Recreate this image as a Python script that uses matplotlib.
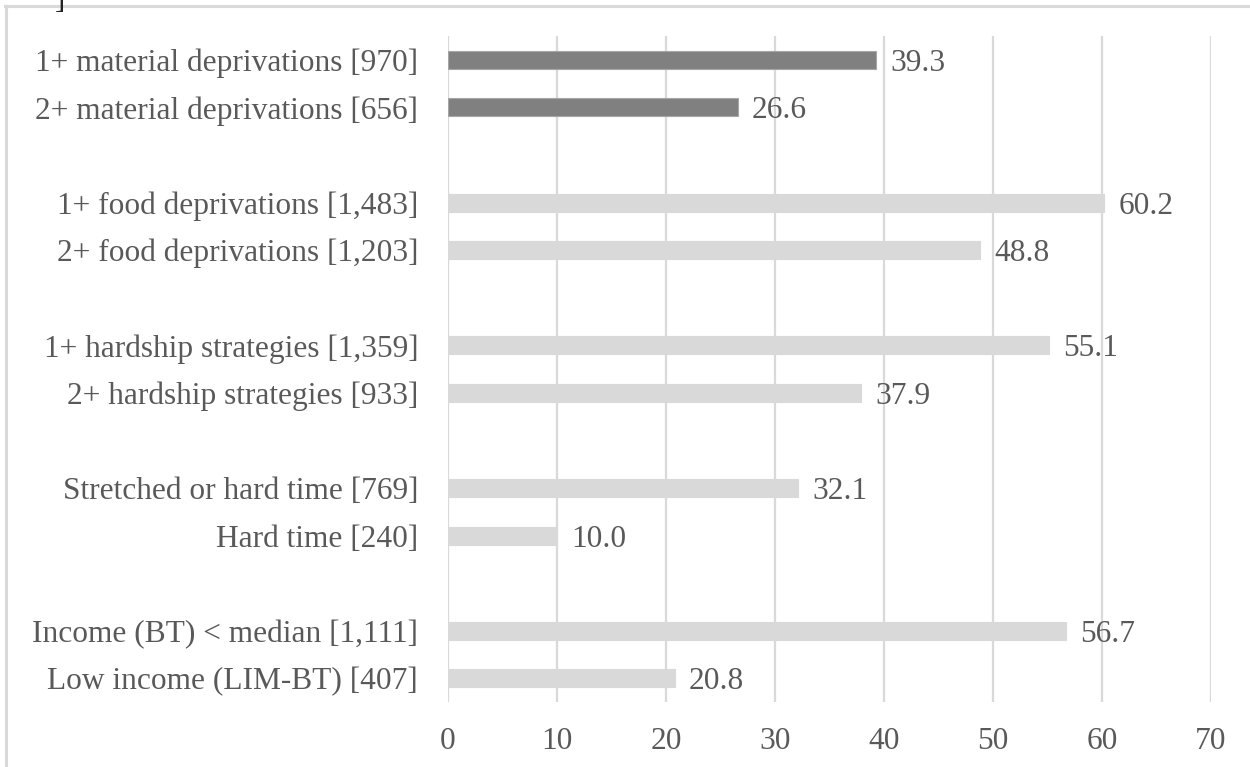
import numpy as np
import matplotlib
matplotlib.use("Agg")
import matplotlib.pyplot as plt
from matplotlib.lines import Line2D

plt.rcParams["font.family"] = ["Liberation Serif", "DejaVu Serif"]

labels = [
    "1+ material deprivations [970]",
    "2+ material deprivations [656]",
    "1+ food deprivations [1,483]",
    "2+ food deprivations [1,203]",
    "1+ hardship strategies [1,359]",
    "2+ hardship strategies [933]",
    "Stretched or hard time [769]",
    "Hard time [240]",
    "Income (BT) < median [1,111]",
    "Low income (LIM-BT) [407]",
]
values = [39.3, 26.6, 60.2, 48.8, 55.1, 37.9, 32.1, 10.0, 56.7, 20.8]
highlight = [True, True, False, False, False, False, False, False, False, False]
xticks = [0, 10, 20, 30, 40, 50, 60, 70]

TEXT = "#595959"
GRID = "#d9d9d9"
DARK = "#808080"
LIGHT = "#d9d9d9"
FS = 22.6

# pairs of bars with an empty slot between groups
pos = np.array([g * 3 + k for g in range(5) for k in range(2)])

fig = plt.figure(figsize=(12.5, 7.67), dpi=100)
ax = fig.add_axes([0.3584, 0.0847, 0.6104, 0.8683])

colors = [DARK if h else LIGHT for h in highlight]
edges = ["#a6a6a6" if h else LIGHT for h in highlight]
ax.barh(pos, values, height=0.38, color=colors, edgecolor=edges,
        linewidth=0.8, zorder=3)

for p, v in zip(pos, values):
    ax.text(v + 1.3, p, f"{v:.1f}", va="center_baseline", ha="left",
            fontsize=FS, color=TEXT, zorder=4)

ax.set_ylim(13.5, -0.5)
ax.set_xlim(0, 70)
ax.set_yticks(pos)
ax.set_yticklabels(labels, fontsize=FS, color=TEXT)
ax.set_xticks(xticks)
ax.set_xticklabels([str(t) for t in xticks], fontsize=FS, color=TEXT)
ax.tick_params(axis="both", length=0)
ax.tick_params(axis="y", pad=21.5)
ax.tick_params(axis="x", pad=18)
ax.xaxis.grid(True, color=GRID, linewidth=1.6, zorder=0)
ax.set_axisbelow(True)
for s in ax.spines.values():
    s.set_visible(False)

# chart area border (top and left edges)
fig.add_artist(Line2D([5 / 1250, 1.0], [0.9925, 0.9925], color=GRID,
                      linewidth=2.2, transform=fig.transFigure))
fig.add_artist(Line2D([5.5 / 1250, 5.5 / 1250], [0.0, 0.9925], color=GRID,
                      linewidth=2.2, transform=fig.transFigure))
fig.text(60 / 1250, 1.0, "]", fontsize=FS, color="#222222",
         ha="center", va="center")

fig.savefig("out.png", dpi=100)
